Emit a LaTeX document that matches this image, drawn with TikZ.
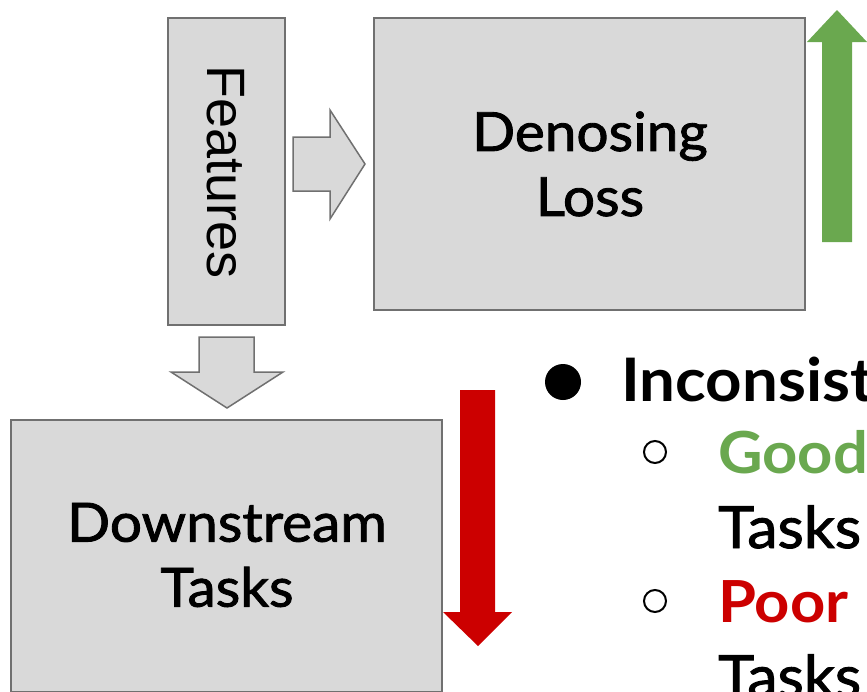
\documentclass[tikz,border=0pt]{standalone}
\usepackage{fontspec}
\setmainfont{Lato}[FakeStretch=1.06]
\newfontfamily\medfont{Lato}[FakeStretch=1.05, FakeBold=1.6]
\newfontfamily\featfont{Liberation Sans}
\definecolor{boxgray}{HTML}{D9D9D9}
\definecolor{edgegray}{HTML}{707070}
\definecolor{upgreen}{HTML}{6AA84F}
\definecolor{downred}{HTML}{CC0000}
\begin{document}
\begin{tikzpicture}[x=1pt,y=-1pt,
  panel/.style={draw=edgegray, fill=boxgray, line width=1.8pt, inner sep=0pt},
  paneltext/.style={inner sep=0pt, align=center, font=\medfont\fontsize{54}{65}\selectfont},
  blockarrow/.style={draw=edgegray, fill=boxgray, line width=1.5pt, line join=miter},
  headline/.style={inner sep=0pt, anchor=base west, font=\bfseries\fontsize{60}{72}\selectfont},
  subline/.style={inner sep=0pt, anchor=base west, font=\bfseries\fontsize{58}{70}\selectfont},
  plainline/.style={inner sep=0pt, anchor=base west, font=\medfont\fontsize{58}{70}\selectfont}]
\useasboundingbox (0,0) rectangle (867,691);

% boxes
\node[panel, minimum width=117pt, minimum height=307pt] (feat) at (226.5,171.5) {};
\node[rotate=-90, inner sep=0pt, font=\featfont\fontsize{54}{60}\selectfont] (featlabel) at (226,172) {Features};

\node[panel, minimum width=431pt, minimum height=292pt] (loss) at (589.5,164) {};
\node[paneltext] (losslabel) at (590,164) {Denosing\\Loss};

\node[panel, minimum width=431pt, minimum height=272pt] (down) at (226.5,556) {};
\node[paneltext] (downlabel) at (227,555) {Downstream\\Tasks};

% gray block arrows
\draw[blockarrow] (293,137) -- (330,137) -- (330,110) -- (365,164) -- (330,219) -- (330,191) -- (293,191) -- cycle;
\draw[blockarrow] (199,337) -- (254,337) -- (254,372) -- (283,372) -- (227,408) -- (171,372) -- (199,372) -- cycle;

% coloured trend arrows
\fill[upgreen] (822,242) -- (822,42) -- (807,42) -- (837,10) -- (867,42) -- (852,42) -- (852,242) -- cycle;
\fill[downred] (460,390) -- (495,390) -- (495,612) -- (512,612) -- (478,646) -- (443,612) -- (460,612) -- cycle;

% bullet list
\fill (563,382) circle (18);
\node[headline] (incons) at (621,401) {Inconsist};
\draw[line width=2pt] (655,452) circle (11);
\node[subline, text=upgreen] (good) at (718,473) {Good};
\node[plainline] (tasksA) at (718,548) {Tasks};
\draw[line width=2pt] (655,601) circle (11);
\node[subline, text=downred] (poor) at (718,622) {Poor};
\node[plainline] (tasksB) at (718,697) {Tasks};
\end{tikzpicture}
\end{document}
